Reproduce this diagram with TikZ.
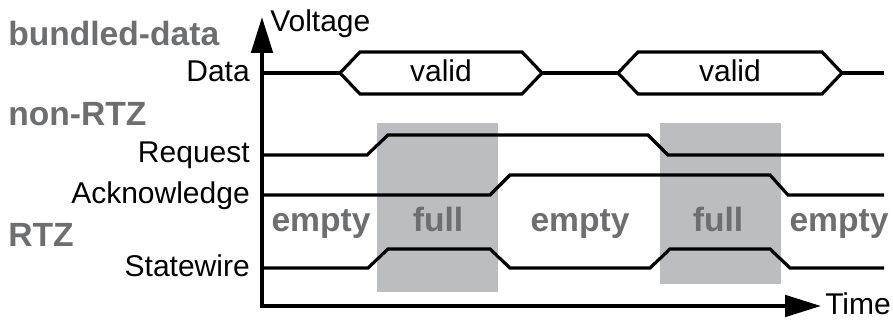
\documentclass[tikz,border=0pt]{standalone}
\usepackage{fontspec}
\setmainfont{Liberation Sans}
\usetikzlibrary{arrows.meta}

\definecolor{boxgray}{RGB}{188,189,192}
\definecolor{labelgray}{RGB}{109,110,112}

\begin{document}
\begin{tikzpicture}[x=0.75pt,y=-0.75pt]
\tikzset{wire/.style={line width=2.4pt},
  axis/.style={line width=3pt,{Triangle[length=27pt,width=16pt]}-{Triangle[length=27pt,width=16pt]}},
  sig/.style={inner sep=0pt,font=\fontsize{22.5}{27}\selectfont},
  phase/.style={inner sep=0pt,text=labelgray,font=\bfseries\fontsize{25.2}{30}\selectfont}};
\useasboundingbox (0,0) rectangle (893,320);

   % full phases
   \fill[boxgray] (377,123) rectangle (498,292);
   \fill[boxgray] (660,123) rectangle (781,284);

   % axes
   \coordinate (O) at (262,306);
   \coordinate (V) at (262,17);
   \coordinate (T) at (821,306);
   \draw[axis] (V) -- (O) -- (T);
   \node[sig,anchor=base west] (volt) at (270,32) {Voltage};
   \node[sig,anchor=base west] (time) at (825,315) {Time};

   % signal names
   \node[sig,anchor=base east] (data) at (250,82) {Data};
   \node[sig,anchor=base east] (req) at (250,163) {Request};
   \node[sig,anchor=base east] (ack) at (250,204) {Acknowledge};
   \node[sig,anchor=base east] (state) at (250,277) {Statewire};

   \node[phase,anchor=base west] (bundled) at (8,46) {bundled-data};
   \node[phase,anchor=base west] (nonrtz) at (8,126) {non-RTZ};
   \node[phase,anchor=base west] (rtz) at (8,247) {RTZ};

   % data bus
   \draw[wire] (262,73) -- (340,73) (542,73) -- (618,73) (842,73) -- (884,73);
   \foreach \a/\b in {340/542, 618/842}
      \draw[wire] (\a,73) -- (\a+20,52) -- (\b-20,52) -- (\b,73) -- (\b-20,94) -- (\a+20,94) -- cycle;
   \node[sig,anchor=base] (valid1) at (441,82) {valid};
   \node[sig,anchor=base] (valid2) at (730,82) {valid};

   % handshake wires
   \draw[wire] (262,155) -- (367,155) -- (388,135) -- (648,135) -- (668,155) -- (884,155);
   \draw[wire] (262,195) -- (490,195) -- (510,175) -- (770,175) -- (788,195) -- (884,195);
   \draw[wire] (262,268) -- (368,268) -- (388,249) -- (490,249) -- (510,268)
      -- (650,268) -- (670,249) -- (770,249) -- (790,268) -- (884,268);

   \foreach \x/\t in {321/empty, 438/full, 580/empty, 718/full, 839/empty}
      \node[phase,anchor=base] (p\x) at (\x,232) {\t};
\end{tikzpicture}
\end{document}
